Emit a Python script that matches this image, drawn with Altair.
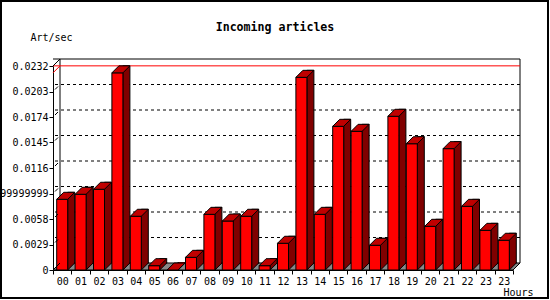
import json
import altair as alt
import pandas as pd

# ---------------- data ----------------
hour_labels = ["00", "01", "02", "03", "04", "05", "06", "07", "08", "09", "10", "11",
               "12", "13", "14", "15", "16", "17", "18", "19", "20", "21", "22", "23", "23"]
art_per_sec = [0.00804, 0.00861, 0.00918, 0.02242, 0.00611, 0.00049, 0.0, 0.00144,
               0.00633, 0.00557, 0.00611, 0.00049, 0.00304, 0.02191, 0.00633, 0.01634,
               0.01577, 0.00281, 0.01748, 0.01436, 0.00497, 0.01380, 0.00724, 0.00451,
               0.00338]
y_ticks = [0, 0.0029, 0.0058, 0.0087, 0.0116, 0.0145, 0.0174, 0.0203, 0.0232]
y_tick_labels = ["0", "0.0029", "0.0058", "0.008699999999999999", "0.0116",
                 "0.0145", "0.0174", "0.0203", "0.0232"]
title_text = "Incoming articles"
y_title = "Art/sec"
x_title = "Hours"

# ---------------- styling ----------------
W, H = 460, 204
D = 7
FONT = "DejaVu Sans Mono"
FRONT = "#ff0000"
TOP = "#c00000"
SIDE = "#800000"
FLOOR = "#888888"

df = pd.DataFrame({"idx": list(range(len(art_per_sec))), "value": art_per_sec,
                   "zero": [0.0] * len(art_per_sec)})
grid_df = pd.DataFrame({"tick": y_ticks[1:-1]})
corner_df = pd.DataFrame({"tick": [y_ticks[0], y_ticks[-1]]})
wall_df = pd.DataFrame({"lo": [y_ticks[0]], "hi": [y_ticks[-1]]})

y_scale = alt.Scale(domain=[y_ticks[0], y_ticks[-1]], nice=False, zero=True)
x_scale = alt.Scale(paddingInner=0, paddingOuter=0)

y_axis = alt.Axis(
    values=y_ticks,
    labelExpr="%s[indexof(%s, datum.value)]" % (json.dumps(y_tick_labels), json.dumps(y_ticks)),
    grid=False, domainColor="black", tickColor="black", tickSize=4,
    labelFont=FONT, labelFontSize=10, labelColor="black", labelPadding=1,
    title=y_title, titleAngle=0, titleAlign="left", titleBaseline="middle",
    titleX=-23, titleY=-29, titleFont=FONT, titleFontSize=10,
    titleFontWeight="normal", titleColor="black",
)
x_axis = alt.Axis(
    labelExpr="%s[datum.value]" % json.dumps(hour_labels),
    labelAngle=0, grid=False, domainColor="black", tickColor="black", tickSize=4,
    tickBand="extent", labelFont=FONT, labelFontSize=10, labelColor="black",
    labelPadding=2,
    title=x_title, titleAlign="left", titleBaseline="middle", titleX=450, titleY=22,
    titleFont=FONT, titleFontSize=10, titleFontWeight="normal", titleColor="black",
)


def YQ(field):
    return alt.Y(field, type="quantitative", scale=y_scale, axis=y_axis)


X = alt.X("idx:O", scale=x_scale, axis=x_axis)

# back wall grid lines (dotted)
grid = alt.Chart(grid_df).mark_rule(
    color="black", strokeDash=[3, 3], strokeWidth=1,
    xOffset=D, x2Offset=D, yOffset=-D
).encode(y=YQ("tick"))

# back wall frame
wall_top = alt.Chart(wall_df).mark_rule(
    color="black", strokeWidth=1, xOffset=D, x2Offset=D, yOffset=-D
).encode(y=YQ("hi"))
wall_left = alt.Chart(wall_df).mark_rule(
    color="black", strokeWidth=1, xOffset=D, yOffset=-D, y2Offset=-D
).encode(x=alt.value(0), y=YQ("lo"), y2="hi:Q")
wall_right = alt.Chart(wall_df).mark_rule(
    color="black", strokeWidth=1, xOffset=D, yOffset=-D, y2Offset=-D
).encode(x=alt.value(W), y=YQ("lo"), y2="hi:Q")

# floor (parallelogram)
hw = (W + D) / 2.0
floor_path = "M-1,{a}L{b},{a}L1,-{a}L-{b},-{a}Z".format(a=round(3.5 / hw, 4), b=round((hw - D) / hw, 4))
floor = alt.Chart(wall_df).mark_point(
    shape=floor_path, size=(2 * hw) ** 2, filled=True, fill=FLOOR, stroke="black",
    strokeWidth=1, opacity=1, yOffset=-D / 2
).encode(x=alt.value(hw), y=YQ("lo"))

# red max line on the back wall
max_line = alt.Chart(df).mark_rule(
    color="red", strokeWidth=1, xOffset=D, x2Offset=D, yOffset=-D
).encode(y=alt.Y("max(value):Q", scale=y_scale, axis=y_axis))
max_stub = alt.Chart(df).mark_point(
    shape="M-1,1L1,-1", size=D * D, filled=False, stroke="red", strokeWidth=1,
    opacity=1, yOffset=-D / 2
).encode(x=alt.value(D / 2), y=alt.Y("max(value):Q", scale=y_scale, axis=y_axis))

# bars: side, bottom triangle, front, top face
side = alt.Chart(df).mark_bar(
    size=D, xOffset=5.5 + D / 2, yOffset=-D, y2Offset=-D,
    fill=SIDE, stroke="black", strokeWidth=1
).encode(x=X, y=YQ("value"), y2="zero:Q")

bottom_tri = alt.Chart(df).mark_point(
    shape="M0.875,-1L0.875,-0.75L-0.875,1L-0.875,-1", size=64, filled=True,
    fill=SIDE, stroke="black", strokeWidth=1, opacity=1,
    xOffset=5.5 + D / 2, yOffset=-4
).encode(x=X, y=YQ("zero"))

front = alt.Chart(df).mark_bar(
    size=11, fill=FRONT, stroke="black", strokeWidth=1
).encode(x=X, y=YQ("value"))

top_face = alt.Chart(df).mark_point(
    shape="M-1,0.3889L0.2222,0.3889L1,-0.3889L-0.2222,-0.3889Z", size=324,
    filled=True, fill=TOP, stroke="black", strokeWidth=1, opacity=1,
    xOffset=D / 2, yOffset=-D / 2
).encode(x=X, y=YQ("value"))

# small diagonal stubs between front axis and back wall
stubs = alt.Chart(grid_df).mark_point(
    shape="M-1,1L1,-1", size=9, filled=False, stroke="black", strokeWidth=1,
    opacity=1, yOffset=-D / 2
).encode(x=alt.value(D / 2), y=YQ("tick"))
corner_stubs = alt.Chart(corner_df).mark_point(
    shape="M-1,1L1,-1", size=D * D, filled=False, stroke="black", strokeWidth=1,
    opacity=1, yOffset=-D / 2
).encode(x=alt.value(D / 2), y=YQ("tick"))
right_stub = alt.Chart(wall_df).mark_point(
    shape="M-1,1L1,-1", size=D * D, filled=False, stroke="black", strokeWidth=1,
    opacity=1, yOffset=-D / 2
).encode(x=alt.value(W + D / 2), y=YQ("lo"))

# title
title = alt.Chart(pd.DataFrame({"t": [title_text]})).mark_text(
    font=FONT, fontSize=11.6, fontWeight="bold", color="black",
    align="center", baseline="middle"
).encode(text="t:N", x=alt.value(275 - 53), y=alt.value(28 - 66))

# outer frame
frame = alt.Chart(wall_df).mark_rect(
    filled=False, stroke="black", strokeWidth=2
).encode(x=alt.value(-52), x2=alt.value(495), y=alt.value(-65), y2=alt.value(232))

chart = alt.layer(
    grid, wall_top, wall_left, wall_right, max_line, max_stub, floor, right_stub,
    side, bottom_tri, front, top_face, stubs, corner_stubs, title, frame
).properties(
    width=W, height=H, autosize="none",
    padding={"left": 53, "top": 66, "right": 37, "bottom": 30},
    background="white",
).configure_view(strokeWidth=0)

chart.save("out.html", embed_options={"renderer": "svg", "actions": False})
